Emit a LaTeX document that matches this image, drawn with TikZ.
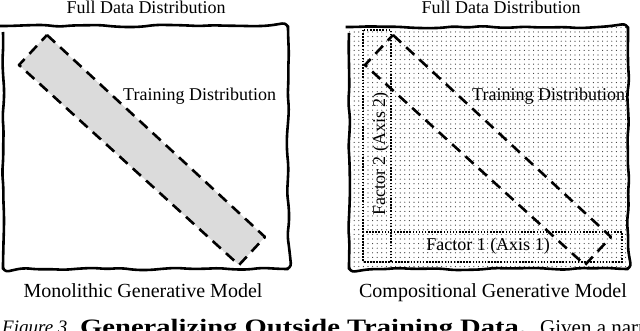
\documentclass[tikz,border=0pt]{standalone}
\usepackage{fontspec}
\setmainfont{Liberation Serif}
\usetikzlibrary{patterns.meta,decorations.pathmorphing}
\begin{document}
\begin{tikzpicture}[x=1pt,y=-1pt,
  frame/.style={line width=2.6pt, line join=round, decorate,
    decoration={random steps, segment length=14pt, amplitude=1.2pt}, rounded corners=6pt},
  bandline/.style={line width=2.6pt, dash pattern=on 11pt off 7pt, line join=round},
  dotbox/.style={line width=2pt, dash pattern=on 1.5pt off 1.6pt},
  bandtone/.style={fill=black!7},
  fineDots/.style={pattern={Dots[distance=2pt, radius=0.48pt]}, pattern color=black!90},
  sparseDots/.style={pattern={Dots[distance=4.6pt, radius=0.6pt]}, pattern color=black!80},
  lbl/.style={inner sep=0pt, font=\fontsize{18}{20}\selectfont},
  biglbl/.style={inner sep=0pt, font=\fontsize{20}{22}\selectfont},
]
\useasboundingbox (0,0) rectangle (640,331);
\clip (0,0) rectangle (640,331);
\pgfmathsetseed{7}

% ---------- left panel ----------
\coordinate (lA) at (47,35);
\coordinate (lB) at (265,237);
\coordinate (lC) at (239,265);
\coordinate (lD) at (19,65);
\fill[white] (3,26) rectangle (288,269);
\path[bandtone] (lA) -- (lB) -- (lC) -- (lD) -- cycle;
\path[fineDots] (lA) -- (lB) -- (lC) -- (lD) -- cycle;
\draw[bandline] (lA) -- (lB) -- (lC) -- (lD) -- cycle;
\draw[frame] (3,26) rectangle (288,269);

\node[lbl, anchor=base] (titleL) at (146,14) {Full Data Distribution};
\node[lbl, anchor=base west] (trainL) at (123,101) {Training Distribution};
\node[biglbl, anchor=base] (modelL) at (143,298) {Monolithic Generative Model};

% ---------- right panel ----------
\coordinate (rA) at (393,35);
\coordinate (rB) at (611,237);
\coordinate (rC) at (585,265);
\coordinate (rD) at (365,65);
\path[sparseDots] (349,27) rectangle (628,269);
\draw[dotbox] (363,30) rectangle (391,262);
\draw[dotbox] (363,232) rectangle (622,262);
\draw[bandline] (rA) -- (rB) -- (rC) -- (rD) -- cycle;
\draw[frame] (349,27) rectangle (628,269);

\node[lbl, anchor=base] (titleR) at (501,14) {Full Data Distribution};
\node[lbl, anchor=base west] (trainR) at (472,101) {Training Distribution};
\node[lbl, anchor=base] (factor1) at (488,251) {Factor 1 (Axis 1)};
\node[lbl, anchor=base, rotate=90] (factor2) at (385,154) {Factor 2 (Axis 2)};
\node[biglbl, anchor=base] (modelR) at (493,297) {Compositional Generative Model};

% ---------- caption (cut off at the bottom edge, as in the reference) ----------
\node[inner sep=0pt, anchor=base west, font=\fontsize{19}{22}\selectfont\itshape] (capfig) at (2,333) {Figure 3.};
\node[inner sep=0pt, anchor=base west, font=\fontsize{22}{24}\selectfont\bfseries] (capbold) at (80,334) {\scalebox{1.3}[1]{Generalizing Outside Training Data.}};
\node[inner sep=0pt, anchor=base west, font=\fontsize{21}{24}\selectfont] (capgiven) at (540,334) {Given a narrow};
\end{tikzpicture}
\end{document}
